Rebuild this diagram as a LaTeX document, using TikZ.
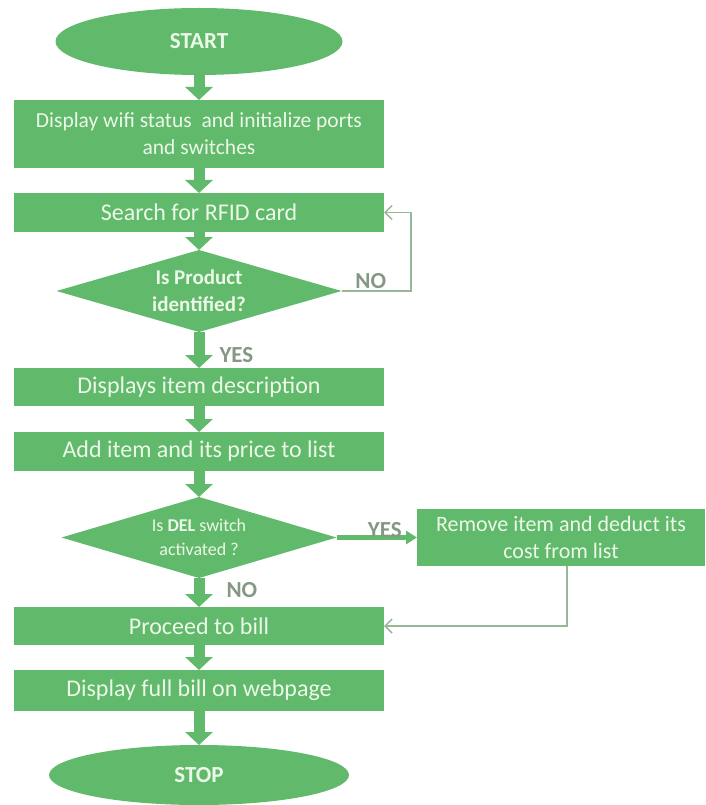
\documentclass[tikz,border=0pt]{standalone}
\usepackage{fontspec}
\setmainfont{Carlito}
\definecolor{flow_green}{RGB}{97, 185, 107}
\definecolor{flow_text}{RGB}{236, 248, 232}
\definecolor{flow_line}{RGB}{150, 184, 150}
\definecolor{flow_label}{RGB}{132, 152, 132}
\usetikzlibrary{arrows.meta, positioning, shapes.geometric}

\begin{document}
\begin{tikzpicture}[x=1pt, y=1pt,
        box/.style={fill=flow_green, minimum width=370pt, minimum height=39pt,
                    inner sep=0pt, outer sep=0pt, text=flow_text,
                    font=\fontsize{24}{27}\selectfont, align=center},
        dec/.style={fill=flow_green, diamond, aspect=3.5, inner sep=-8pt,
                    outer sep=0pt, text=flow_text, align=center,
                    font=\bfseries\fontsize{21}{27}\selectfont},
        term/.style={fill=flow_green, ellipse, inner sep=0pt, outer sep=0pt,
                     text=flow_text, font=\bfseries\fontsize{23}{27}\selectfont},
        arr/.style={-{Triangle[width=27pt, length=13pt]}, line width=11pt, flow_green},
        yesarr/.style={-{Triangle[width=13pt, length=11pt]}, line width=5pt, flow_green},
        back/.style={-{Straight Barb[length=7pt, width=14pt]}, line width=1.5pt, flow_line},
        lbl/.style={text=flow_label, inner sep=1pt,
                    font=\bfseries\fontsize{23}{27}\selectfont},
      ]
        \useasboundingbox (0,0) rectangle (705,-805);
        \node[term, minimum width=287pt, minimum height=67pt] (start) at (199,-41.5) {START};
        \node[box, minimum height=68pt, below=25pt of start, font=\fontsize{21.5}{27}\selectfont] (init)
          {Display wifi status~ and initialize ports\\and switches};
        \node[box, below=25pt of init] (search) {Search for RFID card};
        \node[dec, minimum width=285pt, minimum height=82pt, below=18pt of search] (isprod)
          {Is Product\\identified?};
        \node[box, minimum height=38pt, below=36pt of isprod] (desc) {Displays item description};
        \node[box, below=26pt of desc] (additem) {Add item and its price to list};
        \node[dec, minimum width=275pt, minimum height=81pt, below=26pt of additem,
              font=\fontsize{18}{24}\selectfont] (isdel)
          {Is \textbf{DEL} switch\\activated ?};
        \node[box, minimum width=288pt, minimum height=57pt, right=80.5pt of isdel,
              font=\fontsize{22}{27}\selectfont] (remove)
          {Remove item and deduct its\\cost from list};
        \node[box, minimum height=38pt, below=29pt of isdel] (bill) {Proceed to bill};
        \node[box, minimum height=41pt, below=25pt of bill] (showbill) {Display full bill on webpage};
        \node[term, minimum width=300pt, minimum height=60pt, below=34pt of showbill] (stop) {STOP};
        % main flow
        \draw[arr] (start) -- (init);
        \draw[arr] (init) -- (search);
        \draw[arr] (search) -- (isprod);
        \draw[arr] (isprod) -- node[lbl, right=14pt, pos=0.64]{YES} (desc);
        \draw[arr] (desc) -- (additem);
        \draw[arr] (additem) -- (isdel);
        \draw[arr] (isdel) -- node[lbl, right=21pt, pos=0.41]{NO} (bill);
        \draw[arr] (bill) -- (showbill);
        \draw[arr] (showbill) -- (stop);
        \draw[yesarr] (isdel.east) -- node[lbl, above=-4pt, pos=0.6]{YES} (remove.west);
        % loops back
        \draw[back] (isprod.east) -- ++(69.5,0) node[lbl, above=1pt, pos=0.42]{NO} |- (search.east);
        \draw[back] ([xshift=6pt]remove.south) |- (bill.east);
      \end{tikzpicture}
\end{document}
